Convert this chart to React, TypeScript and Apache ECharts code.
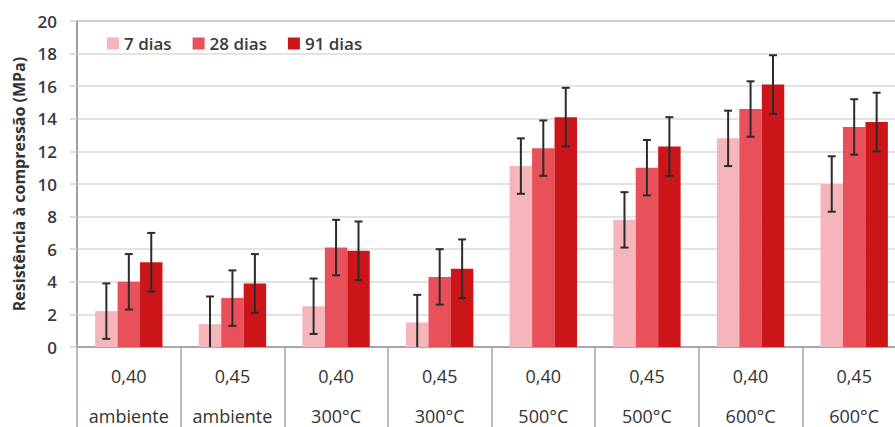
import React, { useEffect, useRef } from "react";
import * as echarts from "echarts";

const categories = [
  "0,40\nambiente",
  "0,45\nambiente",
  "0,40\n300°C",
  "0,45\n300°C",
  "0,40\n500°C",
  "0,45\n500°C",
  "0,40\n600°C",
  "0,45\n600°C",
];
const seriesNames = ["7 dias", "28 dias", "91 dias"];
const values7 = [2.2, 1.4, 2.5, 1.5, 11.1, 7.8, 12.8, 10.0];
const values28 = [4.0, 3.0, 6.1, 4.3, 12.2, 11.0, 14.6, 13.5];
const values91 = [5.2, 3.9, 5.9, 4.8, 14.1, 12.3, 16.1, 13.8];
const err7 = [1.7, 1.7, 1.7, 1.7, 1.7, 1.7, 1.7, 1.7];
const err28 = [1.7, 1.7, 1.7, 1.7, 1.7, 1.7, 1.7, 1.7];
const err91 = [1.8, 1.8, 1.8, 1.8, 1.8, 1.8, 1.8, 1.8];
const colors = ["#F5B5BA", "#E8515A", "#CC1519"];

const allValues = [values7, values28, values91];
const allErrs = [err7, err28, err91];
const GAP = 0.35;

export default function App() {
  const ref = useRef<HTMLDivElement>(null);
  useEffect(() => {
    if (!ref.current) return;
    const chart = echarts.init(ref.current, undefined, { renderer: "svg" });
    const font = "'Open Sans', sans-serif";
    const barSeries = seriesNames.map((name, s) => ({
      name,
      type: "bar",
      data: allValues[s],
      barGap: "0%",
      barCategoryGap: GAP * 100 + "%",
      itemStyle: { color: colors[s] },
    }));
    const errSeries = seriesNames.map((name, s) => ({
      name: name + "-err",
      type: "custom",
      data: allValues[s].map((v, i) => [i, v, allErrs[s][i]]),
      encode: { x: 0, y: 1 },
      z: 10,
      renderItem: (params: any, api: any) => {
        const idx = api.value(0);
        const val = api.value(1);
        const err = api.value(2);
        const base = api.coord([idx, 0]);
        const catW = api.size([1, 0])[0];
        const bw = (catW * (1 - GAP)) / 3;
        const cx = base[0] + (s - 1) * bw;
        const top = api.coord([idx, val + err])[1];
        const low = val - err;
        const bot = api.coord([idx, Math.max(0, low)])[1];
        const style = { stroke: "#2b2b2b", lineWidth: 2 };
        const cap = 4;
        const children: any[] = [
          { type: "line", shape: { x1: cx, y1: top, x2: cx, y2: bot }, style },
          { type: "line", shape: { x1: cx - cap, y1: top, x2: cx + cap, y2: top }, style },
        ];
        if (low > 0) {
          children.push({ type: "line", shape: { x1: cx - cap, y1: bot, x2: cx + cap, y2: bot }, style });
        }
        return { type: "group", children };
      },
    }));
    chart.setOption({
      animation: false,
      backgroundColor: "#ffffff",
      grid: {
        left: 77,
        top: 21,
        bottom: 80,
        right: -11,
        containLabel: false,
        outerBoundsMode: "none",
        show: true,
        borderColor: "#9a9a9a",
        borderWidth: 1.5,
      },
      legend: {
        data: seriesNames,
        left: 102,
        top: 30,
        icon: "rect",
        itemWidth: 12,
        itemHeight: 12,
        itemGap: 21,
        textStyle: { fontFamily: font, fontSize: 17, fontWeight: 600, color: "#3a3a3a", padding: [0, 0, 0, 0] },
      },
      xAxis: {
        type: "category",
        data: categories,
        axisLine: { lineStyle: { color: "#9a9a9a", width: 1.5 } },
        axisTick: { show: true, length: 82, interval: 0, lineStyle: { color: "#a6a6a6", width: 1.5 } },
        axisLabel: {
          interval: 0,
          fontFamily: font,
          fontSize: 18,
          color: "#333333",
          lineHeight: 40,
          margin: 9,
        },
      },
      yAxis: {
        type: "value",
        min: 0,
        max: 20,
        interval: 2,
        name: "Resistência à compressão (MPa)",
        nameLocation: "middle",
        nameGap: 50,
        nameTextStyle: { fontFamily: font, fontSize: 16, fontWeight: "bold", color: "#333333" },
        axisLine: { show: true, lineStyle: { color: "#9a9a9a", width: 1.5 } },
        axisTick: { show: true, length: 7, lineStyle: { color: "#d0d0d0", width: 1.5 } },
        splitLine: { lineStyle: { color: "#dadada", width: 1.5 } },
        axisLabel: { fontFamily: font, fontSize: 17, fontWeight: 600, color: "#3a3a3a", margin: 20 },
      },
      series: [...barSeries, ...errSeries],
    });
    return () => chart.dispose();
  }, []);
  return (
    <div
      ref={ref}
      style={{ position: "fixed", left: 0, top: 0, width: 895, height: 427, background: "#fff" }}
    />
  );
}
